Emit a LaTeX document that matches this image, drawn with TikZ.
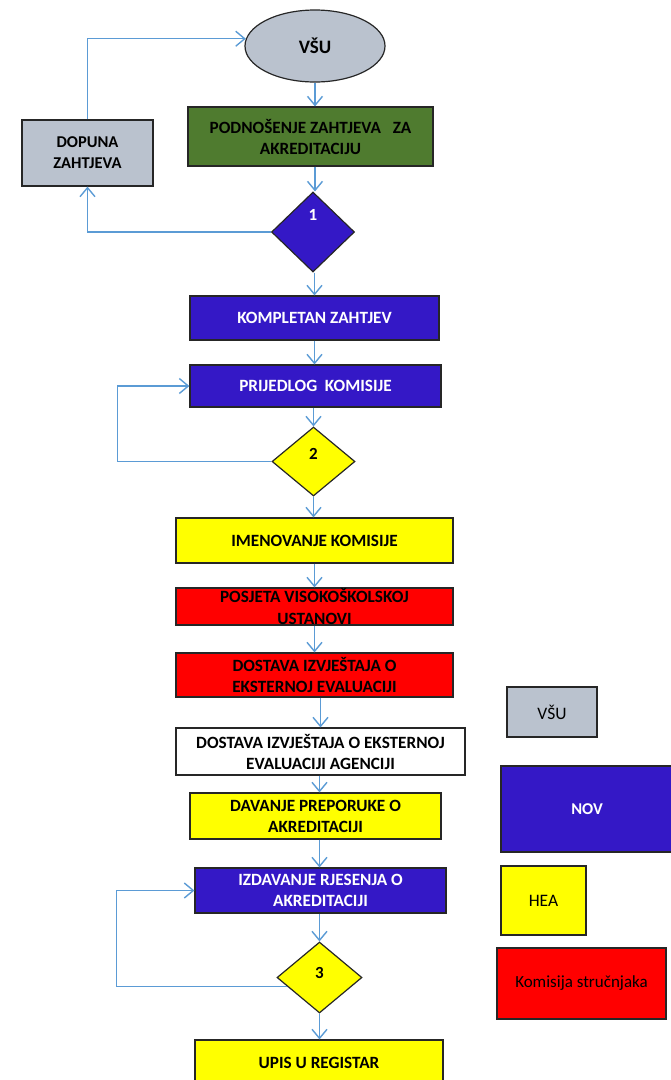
\documentclass[tikz,border=0pt]{standalone}
\usepackage{fontspec}
\setmainfont{Carlito}
\usetikzlibrary{shapes.geometric,arrows.meta}
\definecolor{arrowblue}{RGB}{91,155,213}
\definecolor{vsugrey}{RGB}{186,194,206}
\definecolor{podgreen}{RGB}{79,123,47}
\definecolor{novblue}{RGB}{52,24,198}
\definecolor{heayellow}{RGB}{255,255,0}
\definecolor{komred}{RGB}{255,0,0}
\tikzset{
  box/.style={rectangle, draw=black!85, line width=1.2pt, inner sep=0pt, align=center,
    font=\fontsize{17.2}{21}\selectfont\bfseries},
  dia/.style={diamond, draw=black!85, line width=1.2pt, inner sep=0pt},
  dlabel/.style={font=\fontsize{17}{17}\selectfont\bfseries},
  arr/.style={draw=arrowblue, line width=1.4pt,
    -{Straight Barb[length=9pt,width=15pt,line width=1.4pt]}},
  lgd/.style={rectangle, draw=black!85, line width=1.2pt, inner sep=0pt, align=center,
    font=\fontsize{17.5}{20}\selectfont},
}
\begin{document}
\begin{tikzpicture}[x=1pt,y=-1pt]
\useasboundingbox (0,0) rectangle (670,1080);
% main flow
\node[ellipse, draw=black!85, line width=1.2pt, fill=vsugrey, minimum width=140pt, minimum height=72pt,
  inner sep=0pt, font=\fontsize{19}{20}\selectfont\bfseries] (vsu) at (315,46) {VŠU};
\node[box, fill=podgreen, minimum width=245pt, minimum height=59pt] (podn) at (310.5,136.5)
  {PODNOŠENJE ZAHTJEVA~~ ZA\\AKREDITACIJU};
\node[box, fill=vsugrey, minimum width=131pt, minimum height=66pt,
  font=\fontsize{16.5}{21}\selectfont\bfseries] (dopuna) at (87.5,153)
  {DOPUNA\\ZAHTJEVA};
\node[dia, fill=novblue, minimum width=83pt, minimum height=80pt,
  label={[dlabel, text=white, yshift=17pt]center:1}] (d1) at (313,232) {};
\node[box, fill=novblue, text=white, minimum width=249pt, minimum height=44pt] (komp) at (314.5,318)
  {KOMPLETAN ZAHTJEV};
\node[box, fill=novblue, text=white, minimum width=251pt, minimum height=42pt] (prij) at (315.5,386)
  {PRIJEDLOG~ KOMISIJE};
\node[dia, fill=heayellow, minimum width=83pt, minimum height=69pt,
  label={[dlabel, yshift=8pt]center:2}] (d2) at (313.5,461.5) {};
\node[box, fill=heayellow, minimum width=277pt, minimum height=45pt] (imen) at (314.5,540.5)
  {IMENOVANJE KOMISIJE};
\node[box, fill=komred, minimum width=277pt, minimum height=37pt,
  font=\fontsize{17.2}{22}\selectfont\bfseries] (posj) at (314.5,606.5)
  {POSJETA VISOKOŠKOLSKOJ\\USTANOVI};
\node[box, fill=komred, minimum width=277pt, minimum height=44pt] (dost1) at (314.5,675)
  {DOSTAVA IZVJEŠTAJA O\\EKSTERNOJ EVALUACIJI};
\node[box, fill=white, minimum width=289pt, minimum height=47pt] (dost2) at (320.5,751.5)
  {DOSTAVA IZVJEŠTAJA O EKSTERNOJ\\EVALUACIJI AGENCIJI};
\node[box, fill=heayellow, minimum width=251pt, minimum height=46pt] (dav) at (315.5,816)
  {DAVANJE PREPORUKE O\\AKREDITACIJI};
\node[box, fill=novblue, text=white, minimum width=251pt, minimum height=45pt] (izd) at (320.5,890.5)
  {IZDAVANJE RJESENJA O\\AKREDITACIJI};
\node[dia, fill=heayellow, minimum width=85pt, minimum height=71pt,
  label={[dlabel, yshift=5pt]center:3}] (d3) at (319.5,977.5) {};
\node[box, fill=heayellow, minimum width=248pt, minimum height=46pt] (upis) at (319,1063)
  {UPIS U REGISTAR};
% legend
\node[lgd, fill=vsugrey, minimum width=90pt, minimum height=50pt] (lvsu) at (552,712) {VŠU};
\node[lgd, fill=novblue, text=white, font=\fontsize{16.5}{18}\selectfont\bfseries,
  minimum width=172pt, minimum height=86pt] (lnov) at (587,809) {NOV};
\node[lgd, fill=heayellow, minimum width=85pt, minimum height=69pt] (lhea) at (543.5,900.5) {HEA};
\node[lgd, fill=komred, minimum width=169pt, minimum height=71pt,
  font=\fontsize{17}{19}\selectfont] (lkom) at (581.5,983.5) {Komisija stručnjaka};
% connectors
\draw[arr] (vsu.south) -- (vsu.south |- podn.north);
\draw[arr] (vsu.south |- podn.south) -- (vsu.south |- d1.north);
\draw[arr] (d1.west) -| (dopuna.south);
\draw[arr] (dopuna.north) |- (vsu.174);
\draw[arr] (d1.south -| komp.north) -- (komp.north);
\draw[arr] (komp.south) -- (komp.south |- prij.north);
\draw[arr] (prij.south -| d2.north) -- (d2.north);
\draw[arr] (d2.west) -| ([xshift=-72pt]prij.west) -- (prij.west);
\draw[arr] (d2.south) -- (d2.south |- imen.north);
\draw[arr] (imen.south) -- (imen.south |- posj.north);
\draw[arr] (posj.south) -- (posj.south |- dost1.north);
\draw[arr] (dost1.south -| dost2.north) -- (dost2.north);
\draw[arr] (dost2.south -| d3.north) -- (d3.north |- dav.north);
\draw[arr] (dav.south -| d3.north) -- (d3.north |- izd.north);
\draw[arr] (izd.south -| d3.north) -- (d3.north);
\draw[arr] (d3.195) -| ([xshift=-78pt]izd.west) -- (izd.west);
\draw[arr] (d3.south) -- (d3.south |- upis.north);
\end{tikzpicture}
\end{document}
